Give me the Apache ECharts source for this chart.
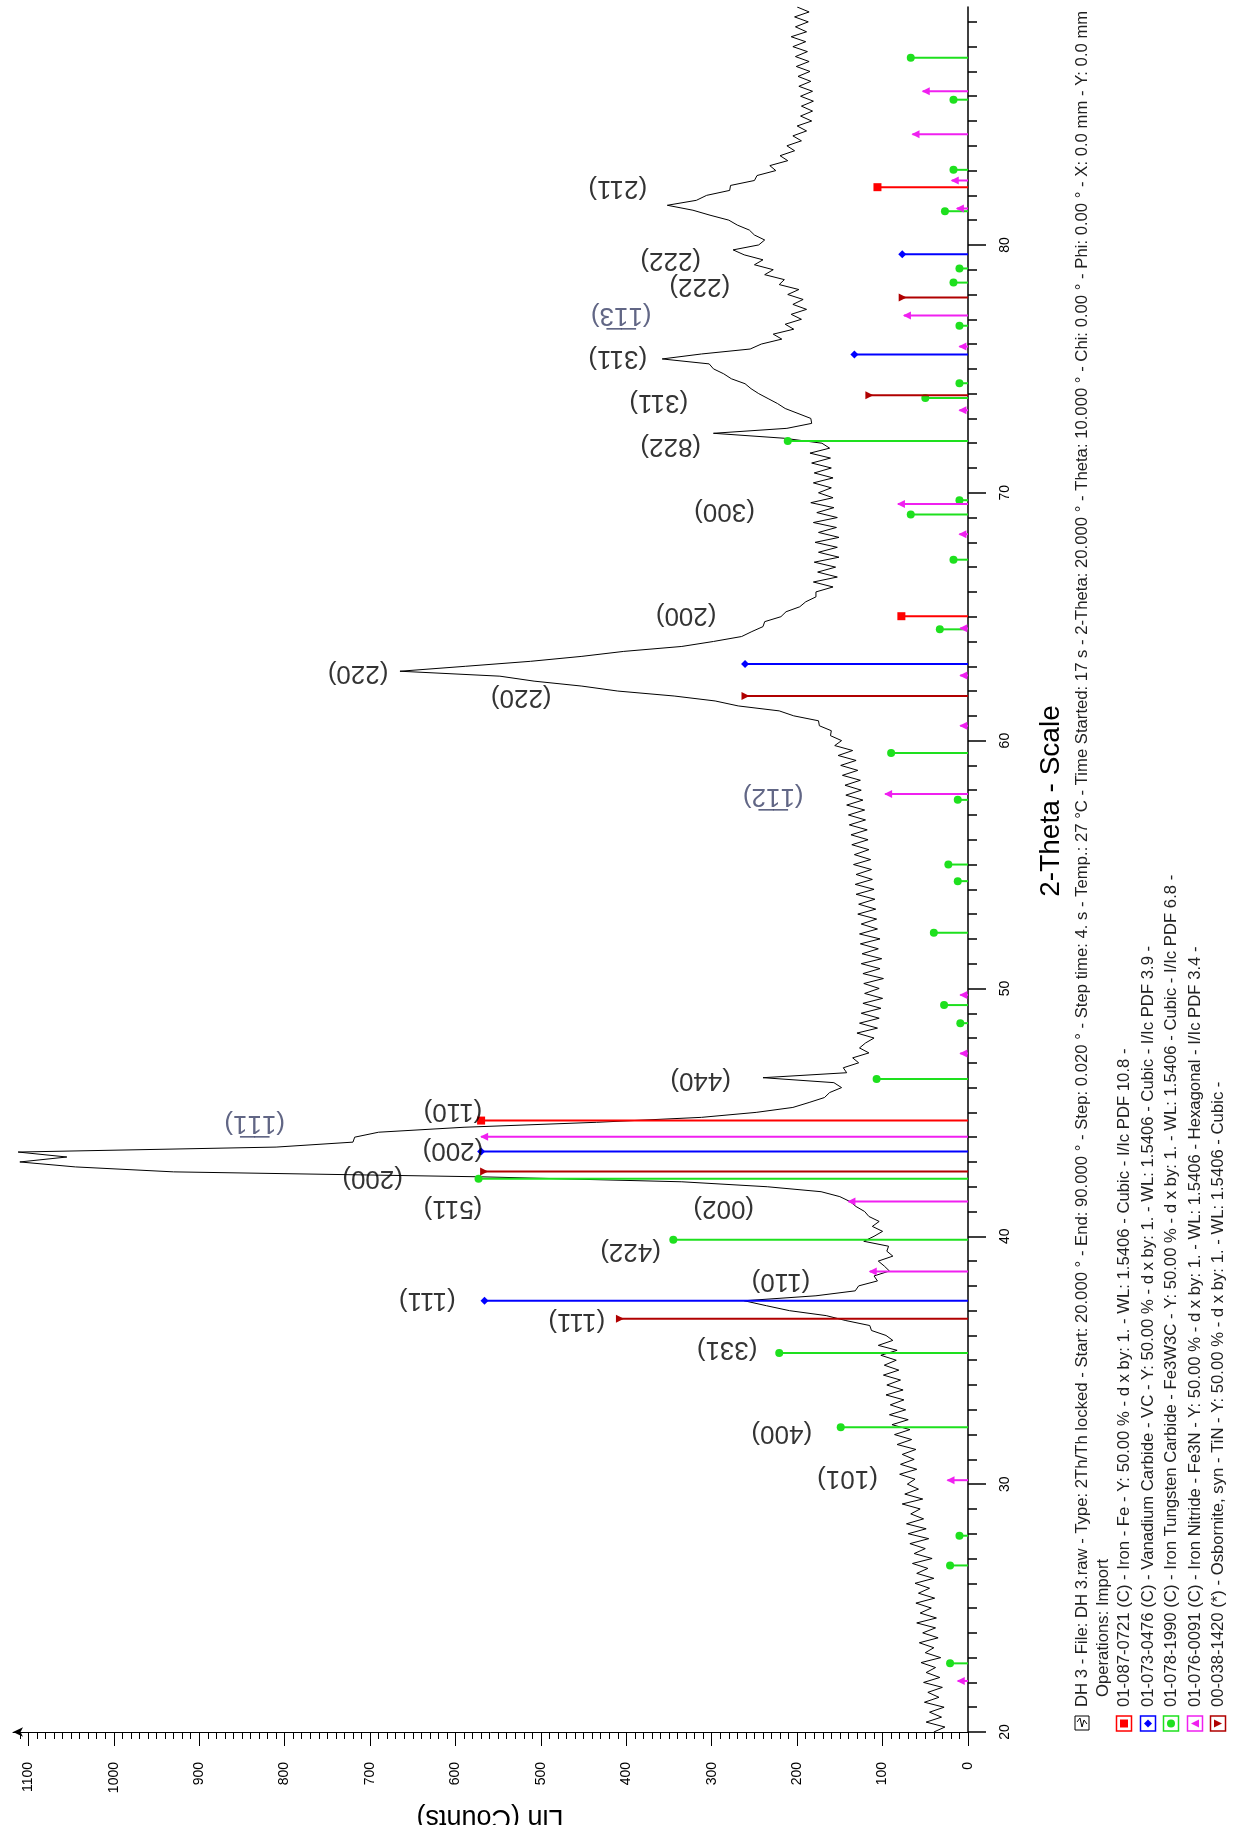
<!DOCTYPE html>
<html>
<head>
<meta charset="UTF-8">
<title>DH 3 - XRD</title>
<script src="https://cdn.jsdelivr.net/npm/echarts@6/dist/echarts.min.js"></script>
<style>
  html, body { margin: 0; padding: 0; background: #fff; }
  #chart { width: 1240px; height: 1825px; }
</style>
</head>
<body>
<div id="chart"></div>
<script>
// measured pattern, 2-theta from 20.0 in 0.2 deg steps
var thetaStart = 20.0;
var thetaStep = 0.2;
var counts20 = [40, 27, 49, 31, 45, 28, 51, 34, 47, 30,
  52, 33, 49, 38, 55, 32, 50, 40, 57, 35,
  53, 38, 60, 37, 56, 43, 61, 39, 58, 45,
  62, 40, 60, 47, 65, 42, 63, 50, 68, 46,
  70, 49, 72, 52, 67, 56, 77, 53, 74, 58];
var counts30 = [71, 62, 80, 60, 79, 63, 77, 61, 83, 66,
  86, 68, 89, 70, 92, 73, 91, 75, 96, 76,
  95, 79, 99, 81, 98, 84, 102, 83, 105, 88,
  96, 113, 115, 143, 166, 209, 236, 262, 178, 132,
  128, 106, 110, 92, 98, 105, 88, 95, 93, 122];
var counts40 = [110, 100, 112, 104, 116, 121, 131, 138, 150, 172,
  235, 335, 570, 930, 1045, 1110, 1055, 1112, 810, 720,
  718, 690, 590, 435, 312, 248, 205, 186, 168, 162,
  148, 157, 240, 142, 146, 128, 135, 116, 127, 120,
  110, 130, 106, 127, 104, 125, 102, 123, 100, 121];
var counts50 = [104, 122, 99, 123, 103, 125, 101, 124, 105, 126,
  103, 127, 106, 125, 107, 129, 108, 128, 109, 131,
  110, 132, 112, 131, 113, 134, 114, 133, 116, 136,
  117, 137, 118, 139, 120, 140, 121, 142, 123, 143,
  125, 144, 126, 147, 129, 149, 131, 152, 135, 156];
var counts60 = [148, 161, 160, 174, 175, 204, 221, 269, 296, 344,
  410, 452, 508, 548, 665, 588, 512, 452, 403, 335,
  298, 265, 253, 240, 238, 219, 213, 197, 190, 178,
  178, 158, 181, 153, 176, 155, 180, 151, 175, 153,
  179, 151, 175, 154, 181, 153, 177, 157, 184, 158];
var counts70 = [175, 160, 181, 158, 180, 160, 183, 161, 185, 162,
  171, 215, 298, 212, 183, 184, 199, 214, 223, 234,
  245, 254, 261, 277, 286, 298, 303, 358, 312, 255,
  242, 218, 228, 204, 214, 195, 207, 189, 205, 193,
  211, 198, 221, 215, 238, 228, 250, 240, 262, 275];
var counts80 = [245, 238, 250, 256, 270, 280, 302, 322, 352, 318,
  306, 279, 278, 250, 247, 225, 232, 211, 220, 203,
  212, 195, 205, 189, 200, 183, 196, 182, 195, 181,
  196, 182, 198, 184, 199, 185, 201, 186, 202, 188,
  205, 190, 207, 189, 202, 187, 203, 186, 200];

// reference patterns [2-theta, height]
var feSticks = [[44.67, 570], [65.02, 78], [82.33, 106]];
var vcSticks = [[37.40, 566], [43.42, 570], [63.09, 261], [75.58, 133], [79.62, 77]];
var fe3w3cSticks = [[22.77, 21], [26.72, 21], [27.92, 10], [32.30, 149], [35.29, 221], [39.86, 345],
  [42.32, 573], [46.35, 107], [48.60, 9], [49.33, 28], [52.25, 40], [54.33, 12], [55.00, 23],
  [57.61, 12], [59.50, 90], [64.49, 33], [67.30, 17], [69.12, 67], [69.70, 10], [72.09, 211],
  [73.82, 50], [74.42, 10], [76.74, 10], [78.48, 17], [79.05, 10], [81.36, 27], [83.03, 17],
  [85.86, 17], [87.55, 67]];
var fe3nSticks = [[22.06, 12], [30.16, 24], [38.58, 115], [41.40, 140], [44.02, 570], [47.38, 9],
  [49.74, 9], [57.85, 97], [60.60, 9], [62.63, 9], [64.53, 9], [68.33, 10], [69.55, 82],
  [73.33, 10], [75.90, 10], [77.15, 75], [81.47, 13], [82.60, 19], [84.47, 65], [86.20, 53]];
var tinSticks = [[36.67, 411], [42.61, 570], [61.80, 264], [73.94, 119], [77.88, 80]];

// hkl annotations [text, counts, 2-theta]
var hklLabels = [['(211)', 410, 82.3], ['(222)', 348, 79.39], ['(222)', 314, 78.33],
  ['(311)', 410, 75.45], ['(311)', 362, 73.64], ['(822)', 348, 71.89], ['(300)', 285, 69.24],
  ['(200)', 330, 65.06], ['(220)', 714, 62.73], ['(220)', 523, 61.74], ['(440)', 313, 46.31],
  ['(110)', 603, 45.03], ['(200)', 603, 43.49], ['(200)', 697, 42.34], ['(511)', 603, 41.13],
  ['(002)', 286, 41.13], ['(422)', 395, 39.39], ['(110)', 219, 38.18], ['(111)', 633, 37.44],
  ['(111)', 458, 36.56], ['(331)', 282, 35.44], ['(400)', 218, 32.06], ['(101)', 141, 30.24]];
var hklBarLabels = [['(1\u03051\u03053)', 406, 77.15], ['(1\u03051\u03052)', 228, 57.75],
  ['(1\u03051\u03051)', 835, 44.56]];

var countTicks = [0, 100, 200, 300, 400, 500, 600, 700, 800, 900, 1000, 1100];
var thetaTicks = [20, 30, 40, 50, 60, 70, 80];

var legendHeader = 'DH 3 - File: DH 3.raw - Type: 2Th/Th locked - Start: 20.000 \u00b0 - End: 90.000 \u00b0 - Step: 0.020 \u00b0 - Step time: 4. s - Temp.: 27 \u00b0C - Time Started: 17 s - 2-Theta: 20.000 \u00b0 - Theta: 10.000 \u00b0 - Chi: 0.00 \u00b0 - Phi: 0.00 \u00b0 - X: 0.0 mm - Y: 0.0 mm';
var legendOps = 'Operations: Import';
var phaseNames = [
  '01-087-0721 (C) - Iron - Fe - Y: 50.00 % - d x by: 1. - WL: 1.5406 - Cubic - I/Ic PDF 10.8 -',
  '01-073-0476 (C) - Vanadium Carbide - VC - Y: 50.00 % - d x by: 1. - WL: 1.5406 - Cubic - I/Ic PDF 3.9 -',
  '01-078-1990 (C) - Iron Tungsten Carbide - Fe3W3C - Y: 50.00 % - d x by: 1. - WL: 1.5406 - Cubic - I/Ic PDF 6.8 -',
  '01-076-0091 (C) - Iron Nitride - Fe3N - Y: 50.00 % - d x by: 1. - WL: 1.5406 - Hexagonal - I/Ic PDF 3.4 -',
  '00-038-1420 (*) - Osbornite, syn - TiN - Y: 50.00 % - d x by: 1. - WL: 1.5406 - Cubic -'
];
var phaseColors = ['#ff0000', '#0000ff', '#1ee01e', '#f020f0', '#b00000'];
var phaseShapes = ['square', 'diamond', 'circle', 'triLeft', 'triRight'];

var FONT = '"Liberation Sans", Arial, sans-serif';

// build the curve
var curve = [];
[counts20, counts30, counts40, counts50, counts60, counts70, counts80].forEach(function (arr) {
  arr.forEach(function (v) {
    var t = Math.round((thetaStart + curve.length * thetaStep) * 100) / 100;
    curve.push([v, t]);
  });
});

var minorCount = [];
for (var c = 10; c <= 1110; c += 10) minorCount.push(c);
var minorTheta = [];
for (var t = 21; t <= 89; t++) minorTheta.push(t);

// small marker shapes, used for stick tips and legend icons
function markShape(kind, x, y, s, color) {
  var h = s / 2;
  if (kind === 'square') return { type: 'rect', shape: { x: x - h, y: y - h, width: s, height: s }, style: { fill: color } };
  if (kind === 'circle') return { type: 'circle', shape: { cx: x, cy: y, r: h }, style: { fill: color } };
  if (kind === 'diamond') return { type: 'polygon', shape: { points: [[x - h, y], [x, y - h], [x + h, y], [x, y + h]] }, style: { fill: color } };
  if (kind === 'triLeft') return { type: 'polygon', shape: { points: [[x - h, y], [x + h, y - h], [x + h, y + h]] }, style: { fill: color } };
  return { type: 'polygon', shape: { points: [[x + h, y], [x - h, y - h], [x - h, y + h]] }, style: { fill: color } };
}

function stickSeries(data, idx) {
  var color = phaseColors[idx], kind = phaseShapes[idx];
  return {
    type: 'custom',
    data: data,
    encode: { x: 1, y: 0 },
    silent: true,
    z: 3,
    renderItem: function (params, api) {
      var base = api.coord([0, api.value(0)]);
      var tip = api.coord([api.value(1), api.value(0)]);
      var tx = tip[0];
      if (kind === 'triLeft' || kind === 'triRight') tx = tip[0] + 3;
      return {
        type: 'group',
        children: [
          { type: 'line', shape: { x1: base[0], y1: base[1], x2: tip[0], y2: tip[1] }, style: { stroke: color, lineWidth: 2 } },
          markShape(kind, tx, tip[1], 8, color)
        ]
      };
    }
  };
}

function labelSeries(list, color) {
  return {
    type: 'scatter',
    data: list.map(function (l) { return { value: [l[1], l[2]], name: l[0] }; }),
    symbolSize: 1,
    itemStyle: { color: 'rgba(0,0,0,0)' },
    silent: true,
    z: 5,
    label: {
      show: true, position: 'inside', rotate: 180,
      formatter: function (p) { return p.name; },
      fontFamily: FONT, fontSize: 26, color: color
    },
    labelLayout: { hideOverlap: false }
  };
}

// legend block and axis titles (rotated text on the page)
var graphics = [];
var textY = 1707;
var legendFont = '16.7px ' + FONT;
graphics.push({ type: 'text', x: 1051, y: 801, rotation: Math.PI / 2,
  style: { text: '2-Theta - Scale', font: '28px ' + FONT, fill: '#000', textAlign: 'center', textVerticalAlign: 'middle' } });
graphics.push({ type: 'text', x: 490, y: 1817, rotation: Math.PI,
  style: { text: 'Lin (Counts)', font: '27px ' + FONT, fill: '#000', textAlign: 'center', textVerticalAlign: 'middle' } });
graphics.push({ type: 'rect', shape: { x: 1075, y: 1716, width: 14, height: 14 }, style: { fill: '#fff', stroke: '#000', lineWidth: 1 } });
graphics.push({ type: 'polyline', shape: { points: [[1077, 1722], [1080, 1718], [1082, 1727], [1084, 1720], [1087, 1724]] }, style: { stroke: '#000', fill: null, lineWidth: 1 } });
graphics.push({ type: 'text', x: 1082, y: textY, rotation: Math.PI / 2,
  style: { text: legendHeader, font: legendFont, fill: '#222', textAlign: 'left', textVerticalAlign: 'middle' } });
graphics.push({ type: 'text', x: 1103, y: textY - 10, rotation: Math.PI / 2,
  style: { text: legendOps, font: legendFont, fill: '#222', textAlign: 'left', textVerticalAlign: 'middle' } });
var colX = [1124, 1148, 1171, 1195, 1218];
phaseNames.forEach(function (name, i) {
  var cx = colX[i];
  graphics.push({ type: 'rect', shape: { x: cx - 7.5, y: 1716, width: 15, height: 15 }, style: { fill: '#fff', stroke: phaseColors[i], lineWidth: 1.5 } });
  graphics.push(markShape(phaseShapes[i], cx, 1723.5, 8, phaseColors[i]));
  graphics.push({ type: 'text', x: cx, y: textY, rotation: Math.PI / 2,
    style: { text: name, font: legendFont, fill: '#222', textAlign: 'left', textVerticalAlign: 'middle' } });
});

var chart = echarts.init(document.getElementById('chart'));
chart.setOption({
  animation: false,
  backgroundColor: '#fff',
  textStyle: { fontFamily: FONT },
  grid: { left: 13, right: 272, top: 7, bottom: 93 },
  xAxis: [{
    type: 'value', inverse: true, min: 0, max: 1118, position: 'bottom',
    axisLine: { show: true, lineStyle: { color: '#000', width: 1 }, symbol: ['arrow', 'none'], symbolSize: [7, 10] },
    axisTick: { show: true, length: 14, lineStyle: { color: '#000' }, customValues: countTicks },
    axisLabel: { show: true, rotate: 90, margin: 30, fontSize: 14, color: '#000', customValues: countTicks,
      formatter: function (v) { return String(v); } },
    splitLine: { show: false }
  }, {
    type: 'value', inverse: true, min: 0, max: 1118, position: 'bottom',
    axisLine: { show: false },
    axisTick: { show: true, length: 7, lineStyle: { color: '#000' }, customValues: minorCount },
    axisLabel: { show: false },
    splitLine: { show: false }
  }],
  yAxis: [{
    type: 'value', min: 20, max: 89.6, position: 'right',
    axisLine: { show: true, lineStyle: { color: '#000', width: 1.5 } },
    axisTick: { show: true, length: 18, lineStyle: { color: '#000', width: 1.5 }, customValues: thetaTicks },
    axisLabel: { show: true, rotate: 90, margin: 30, fontSize: 14, color: '#000', customValues: thetaTicks },
    splitLine: { show: false }
  }, {
    type: 'value', min: 20, max: 89.6, position: 'right',
    axisLine: { show: false },
    axisTick: { show: true, length: 9, lineStyle: { color: '#000', width: 1.5 }, customValues: minorTheta },
    axisLabel: { show: false },
    splitLine: { show: false }
  }],
  graphic: graphics,
  series: [
    {
      type: 'line', data: curve, xAxisIndex: 0, yAxisIndex: 0,
      showSymbol: false, symbol: 'none', silent: true, z: 2,
      lineStyle: { color: '#000', width: 1 }
    },
    stickSeries(feSticks, 0),
    stickSeries(vcSticks, 1),
    stickSeries(fe3w3cSticks, 2),
    stickSeries(fe3nSticks, 3),
    stickSeries(tinSticks, 4),
    labelSeries(hklLabels, '#000'),
    labelSeries(hklBarLabels, '#3a4066')
  ]
});
</script>
</body>
</html>
